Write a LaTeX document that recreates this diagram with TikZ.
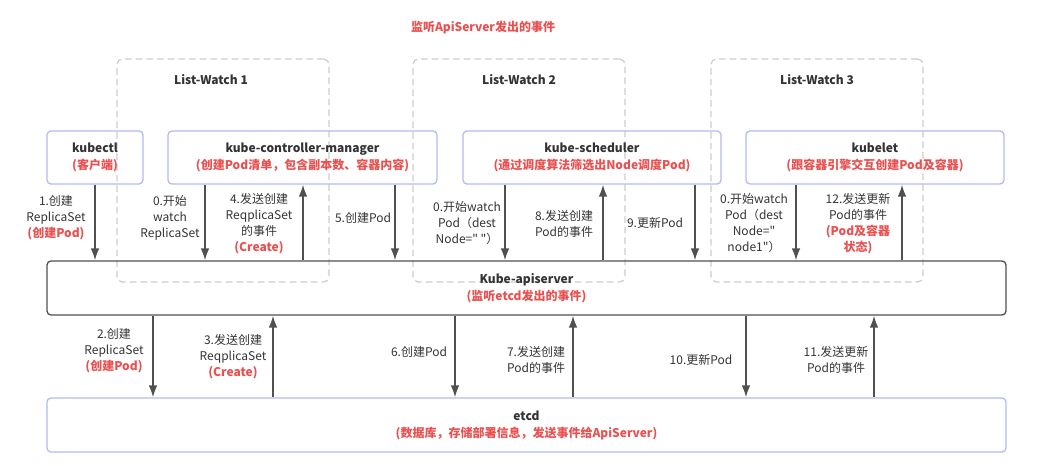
\documentclass[tikz,border=0pt]{standalone}
\usepackage{fontspec}
\setmainfont{Noto Sans CJK SC}[Ligatures=TeXOff]
\usetikzlibrary{arrows.meta}
\definecolor{txtgray}{RGB}{51,51,51}
\definecolor{hired}{RGB}{234,80,80}
\definecolor{boxblue}{RGB}{180,186,245}
\definecolor{linegray}{RGB}{80,80,80}
\definecolor{dashgray}{RGB}{205,205,205}
\tikzset{
  txt/.style={align=center, text=txtgray, inner sep=0pt, font=\fontsize{9}{12}\selectfont},
  comp/.style={txt, draw=boxblue, line width=1pt, rounded corners=3pt, font=\fontsize{9}{12.75}\selectfont},
  main/.style={comp, draw=linegray},
  watchbox/.style={draw=dashgray, dashed, dash pattern=on 5pt off 3pt, line width=0.9pt, rounded corners=4pt, minimum width=159pt, minimum height=167.25pt},
  flow/.style={draw=linegray, line width=1.2pt, -{Latex[length=9pt,width=6.5pt]}},
}
\newcommand{\hl}[1]{{\bfseries\color{hired}#1}}
\begin{document}
\begin{tikzpicture}[x=0.75pt,y=-0.75pt]
\useasboundingbox (0,0) rectangle (1042,466);
\node[txt] (title) at (483,28) {\hl{监听ApiServer发出的事件}};
\node[watchbox] (lw1) at (223,170.5) {};
\node[watchbox] (lw2) at (519,170.5) {};
\node[watchbox] (lw3) at (817,170.5) {};
\node[txt, font=\fontsize{9}{12}\selectfont\bfseries] (lw1t) at (211,80) {List-Watch 1};
\node[txt, font=\fontsize{9}{12}\selectfont\bfseries] (lw2t) at (519,80) {List-Watch 2};
\node[txt, font=\fontsize{9}{12}\selectfont\bfseries] (lw3t) at (817,80) {List-Watch 3};
\node[comp, minimum width=72pt, minimum height=39.75pt] (kubectl) at (95,157.5) {\textbf{kubectl}\\\hl{(客户端)}};
\node[comp, minimum width=201.75pt, minimum height=39.75pt] (ctrl) at (302.5,157.5) {\textbf{kube-controller-manager}\\\hl{(创建Pod清单，包含副本数、容器内容)}};
\node[comp, minimum width=193.5pt, minimum height=39.75pt] (sched) at (592,157.5) {\textbf{kube-scheduler}\\\hl{(通过调度算法筛选出Node调度Pod)}};
\node[comp, minimum width=193.5pt, minimum height=39.75pt] (kubelet) at (875,157.5) {\textbf{kubelet}\\\hl{(跟容器引擎交互创建Pod及容器)}};
\node[main, minimum width=719.25pt, minimum height=40.5pt] (api) at (526.5,288) {\textbf{Kube-apiserver}\\\hl{(监听etcd发出的事件)}};
\node[comp, minimum width=719.25pt, minimum height=40.5pt] (etcd) at (526.5,425) {\textbf{etcd}\\\hl{(数据库，存储部署信息，发送事件给ApiServer)}};
% upper side
\node[txt] (t1) at (56,218) {1.创建\\ReplicaSet\\\hl{(创建Pod)}};
\node[txt] (t0a) at (170,218) {0.开始\\watch\\ReplicaSet};
\node[txt] (t4) at (259,223.5) {4.发送创建\\ReqplicaSet\\的事件\\\hl{(Create)}};
\node[txt] (t5) at (363,218) {5.创建Pod};
\node[txt] (t0b) at (467,223) {0.开始watch\\Pod（dest\\Node=" "）};
\node[txt] (t8) at (564,223.5) {8.发送创建\\Pod的事件};
\node[txt] (t9) at (655,223) {9.更新Pod};
\node[txt] (t0c) at (754,223.5) {0.开始watch\\Pod（dest\\Node="\\node1"）};
\node[txt] (t12) at (858,223.5) {12.发送更新\\Pod的事件\\\hl{(Pod及容器}\\\hl{状态)}};
% lower side
\node[txt] (b2) at (114,351) {2.创建\\ReplicaSet\\\hl{(创建Pod)}};
\node[txt] (b3) at (233,357) {3.发送创建\\ReqplicaSet\\\hl{(Create)}};
\node[txt] (b6) at (419,352) {6.创建Pod};
\node[txt] (b7) at (536,359.5) {7.发送创建\\Pod的事件};
\node[txt] (b10) at (701,360) {10.更新Pod};
\node[txt] (b11) at (836,359.5) {11.发送更新\\Pod的事件};
\draw[flow] (kubectl.south) -- (kubectl.south |- api.north);
\draw[flow] (205,0 |- ctrl.south) -- (205,0 |- api.north);
\draw[flow] (303,0 |- api.north) -- (303,0 |- ctrl.south);
\draw[flow] (395,0 |- ctrl.south) -- (395,0 |- api.north);
\draw[flow] (505,0 |- sched.south) -- (505,0 |- api.north);
\draw[flow] (603,0 |- api.north) -- (603,0 |- sched.south);
\draw[flow] (695,0 |- sched.south) -- (695,0 |- api.north);
\draw[flow] (796,0 |- kubelet.south) -- (796,0 |- api.north);
\draw[flow] (902,0 |- api.north) -- (902,0 |- kubelet.south);
\draw[flow] (153,0 |- api.south) -- (153,0 |- etcd.north);
\draw[flow] (273,0 |- etcd.north) -- (273,0 |- api.south);
\draw[flow] (455,0 |- api.south) -- (455,0 |- etcd.north);
\draw[flow] (573,0 |- etcd.north) -- (573,0 |- api.south);
\draw[flow] (746,0 |- api.south) -- (746,0 |- etcd.north);
\draw[flow] (874,0 |- etcd.north) -- (874,0 |- api.south);
\end{tikzpicture}
\end{document}
